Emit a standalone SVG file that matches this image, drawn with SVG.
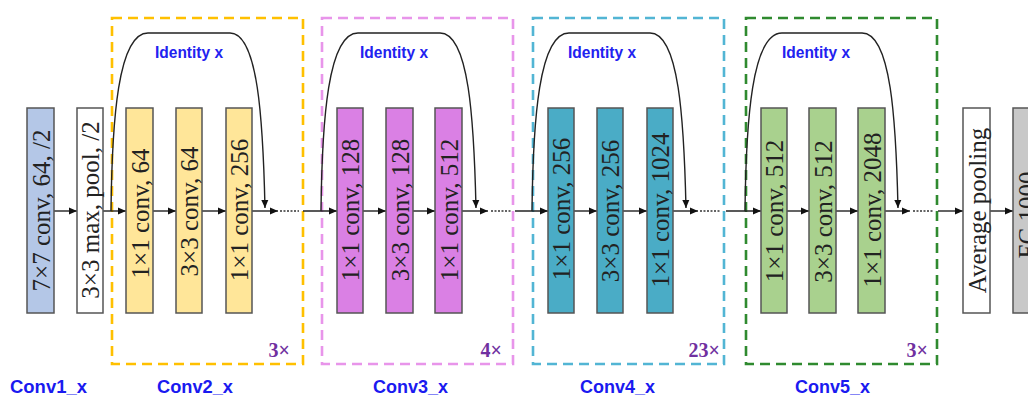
<svg xmlns="http://www.w3.org/2000/svg" width="1028" height="398" viewBox="0 0 1028 398">
<style>
.box{stroke:#555;stroke-width:1.5}
.bt{font-family:"Liberation Serif","Times New Roman",serif;font-size:25px;fill:#222;text-anchor:middle}
.dash{fill:none;stroke-width:2.6;stroke-dasharray:10 6}
.ln{stroke:#222;stroke-width:1.4;fill:none}
.dot{stroke:#333;stroke-width:1.4;stroke-dasharray:2 1.5;fill:none}
.id{font-family:"Liberation Sans",Arial,sans-serif;font-weight:bold;font-size:17px;fill:#2222f0;text-anchor:middle}
.lab{font-family:"Liberation Sans",Arial,sans-serif;font-weight:bold;font-size:19px;fill:#1a1af0;text-anchor:middle}
.rep{font-family:"Liberation Serif","Times New Roman",serif;font-weight:bold;font-size:20px;fill:#7030a0;text-anchor:end}
</style>
<defs>
<marker id="ah" viewBox="0 0 8 8" refX="8" refY="4" markerWidth="8" markerHeight="8" markerUnits="userSpaceOnUse" orient="auto">
<path d="M0,0.5 L8,4 L0,7.5 Z" fill="#111"/>
</marker>
</defs>
<rect width="1028" height="398" fill="#fff"/>

<g id="stage-frames">
<rect class="dash" x="112" y="18" width="191" height="346" stroke="#ffc000"/>
<rect class="dash" x="322" y="18" width="191" height="346" stroke="#e895ea"/>
<rect class="dash" x="533" y="18" width="191" height="346" stroke="#52b5d4"/>
<rect class="dash" x="746" y="18" width="191" height="346" stroke="#2f8a2f"/>
</g>

<g id="connectors">
<line class="ln" x1="54" y1="211" x2="77" y2="211" marker-end="url(#ah)"/>
<line class="ln" x1="103" y1="211" x2="126" y2="211" marker-end="url(#ah)"/>
<line class="ln" x1="153" y1="211" x2="176" y2="211" marker-end="url(#ah)"/>
<line class="ln" x1="202" y1="211" x2="226" y2="211" marker-end="url(#ah)"/>
<line class="ln" x1="252" y1="211" x2="278" y2="211" marker-end="url(#ah)"/>
<line class="dot" x1="280" y1="211" x2="299" y2="211"/>
<line class="ln" x1="303" y1="211" x2="337" y2="211" marker-end="url(#ah)"/>
<line class="ln" x1="363" y1="211" x2="386" y2="211" marker-end="url(#ah)"/>
<line class="ln" x1="413" y1="211" x2="435" y2="211" marker-end="url(#ah)"/>
<line class="ln" x1="462" y1="211" x2="488" y2="211" marker-end="url(#ah)"/>
<line class="dot" x1="491" y1="211" x2="511" y2="211"/>
<line class="ln" x1="515" y1="211" x2="548" y2="211" marker-end="url(#ah)"/>
<line class="ln" x1="574" y1="211" x2="597" y2="211" marker-end="url(#ah)"/>
<line class="ln" x1="623" y1="211" x2="647" y2="211" marker-end="url(#ah)"/>
<line class="ln" x1="673" y1="211" x2="698" y2="211" marker-end="url(#ah)"/>
<line class="dot" x1="700" y1="211" x2="720" y2="211"/>
<line class="ln" x1="726" y1="211" x2="761" y2="211" marker-end="url(#ah)"/>
<line class="ln" x1="787" y1="211" x2="809" y2="211" marker-end="url(#ah)"/>
<line class="ln" x1="836" y1="211" x2="858" y2="211" marker-end="url(#ah)"/>
<line class="ln" x1="885" y1="211" x2="910" y2="211" marker-end="url(#ah)"/>
<line class="dot" x1="913" y1="211" x2="934" y2="211"/>
<line class="ln" x1="938" y1="211" x2="963" y2="211" marker-end="url(#ah)"/>
<line class="ln" x1="990" y1="211" x2="1013" y2="211" marker-end="url(#ah)"/>
<path class="ln" d="M111,211 C112,120 118,33 148,33 L230,33 C258,33 263,120 265,208" marker-end="url(#ah)"/>
<path class="ln" d="M321,211 C322,120 328,33 358,33 L440,33 C469,33 474,120 476,208" marker-end="url(#ah)"/>
<path class="ln" d="M532,211 C533,120 539,33 569,33 L650,33 C679,33 684,120 686,208" marker-end="url(#ah)"/>
<path class="ln" d="M745,211 C746,120 752,33 782,33 L862,33 C891,33 896,120 898,208" marker-end="url(#ah)"/>
</g>

<g id="conv1"><rect class="box" x="27" y="108" width="27" height="205" fill="#b4c7e7"/><text class="bt" transform="translate(49.5,210.5) rotate(-90)">7×7 conv, 64, /2</text></g>
<g id="pool"><rect class="box" x="77" y="108" width="26" height="205" fill="#fff"/><text class="bt" transform="translate(99,210) rotate(-90)">3×3 max, pool, /2</text></g>

<g id="conv2-a"><rect class="box" x="126" y="108" width="27" height="205" fill="#ffe699"/><text class="bt" transform="translate(148.5,213.5) rotate(-90)">1×1 conv, 64</text></g>
<g id="conv2-b"><rect class="box" x="176" y="108" width="26" height="205" fill="#ffe699"/><text class="bt" transform="translate(198,211.5) rotate(-90)">3×3 conv, 64</text></g>
<g id="conv2-c"><rect class="box" x="226" y="108" width="26" height="205" fill="#ffe699"/><text class="bt" transform="translate(248,210) rotate(-90)">1×1 conv, 256</text></g>

<g id="conv3-a"><rect class="box" x="337" y="108" width="26" height="205" fill="#da80e4"/><text class="bt" transform="translate(359,210) rotate(-90)">1×1 conv, 128</text></g>
<g id="conv3-b"><rect class="box" x="386" y="108" width="27" height="205" fill="#da80e4"/><text class="bt" transform="translate(408.5,210) rotate(-90)">3×3 conv, 128</text></g>
<g id="conv3-c"><rect class="box" x="435" y="108" width="27" height="205" fill="#da80e4"/><text class="bt" transform="translate(457.5,210) rotate(-90)">1×1 conv, 512</text></g>

<g id="conv4-a"><rect class="box" x="548" y="108" width="26" height="205" fill="#4aacc6"/><text class="bt" transform="translate(570,209) rotate(-90)">1×1 conv, 256</text></g>
<g id="conv4-b"><rect class="box" x="597" y="108" width="26" height="205" fill="#4aacc6"/><text class="bt" transform="translate(619,211) rotate(-90)">3×3 conv, 256</text></g>
<g id="conv4-c"><rect class="box" x="647" y="108" width="26" height="205" fill="#4aacc6"/><text class="bt" transform="translate(669,210) rotate(-90)">1×1 conv, 1024</text></g>

<g id="conv5-a"><rect class="box" x="761" y="108" width="26" height="205" fill="#a9d18e"/><text class="bt" transform="translate(783,211) rotate(-90)">1×1 conv, 512</text></g>
<g id="conv5-b"><rect class="box" x="809" y="108" width="27" height="205" fill="#a9d18e"/><text class="bt" transform="translate(831.5,211.5) rotate(-90)">3×3 conv, 512</text></g>
<g id="conv5-c"><rect class="box" x="858" y="108" width="27" height="205" fill="#a9d18e"/><text class="bt" transform="translate(880.5,210) rotate(-90)">1×1 conv, 2048</text></g>

<g id="avgpool"><rect class="box" x="963" y="108" width="27" height="205" fill="#fff"/><text class="bt" transform="translate(985.5,210.5) rotate(-90)">Average pooling</text></g>
<g id="fc"><rect class="box" x="1013" y="108" width="27" height="205" fill="#c8c8c8"/><text class="bt" transform="translate(1035.5,215) rotate(-90)">FC 1000</text></g>

<g id="identity-labels">
<text class="id" x="189" y="58" textLength="68" lengthAdjust="spacingAndGlyphs">Identity x</text>
<text class="id" x="394" y="58" textLength="68" lengthAdjust="spacingAndGlyphs">Identity x</text>
<text class="id" x="602" y="58" textLength="68" lengthAdjust="spacingAndGlyphs">Identity x</text>
<text class="id" x="816" y="58" textLength="68" lengthAdjust="spacingAndGlyphs">Identity x</text>
</g>

<g id="repeat-labels">
<text class="rep" x="290" y="357">3×</text>
<text class="rep" x="502" y="357">4×</text>
<text class="rep" x="720" y="357">23×</text>
<text class="rep" x="928" y="357">3×</text>
</g>

<g id="stage-labels">
<text class="lab" x="48.5" y="393" textLength="77" lengthAdjust="spacingAndGlyphs">Conv1_x</text>
<text class="lab" x="195" y="393" textLength="76" lengthAdjust="spacingAndGlyphs">Conv2_x</text>
<text class="lab" x="410.5" y="393" textLength="75" lengthAdjust="spacingAndGlyphs">Conv3_x</text>
<text class="lab" x="617.5" y="393" textLength="75" lengthAdjust="spacingAndGlyphs">Conv4_x</text>
<text class="lab" x="832.5" y="393" textLength="75" lengthAdjust="spacingAndGlyphs">Conv5_x</text>
</g>
</svg>
